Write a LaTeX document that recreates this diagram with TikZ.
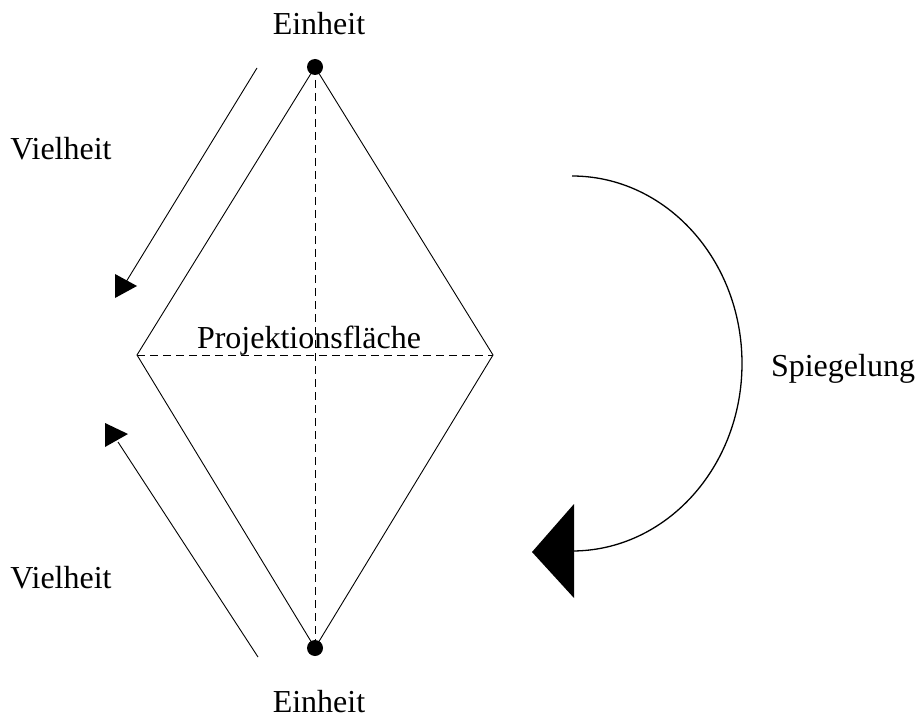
\documentclass[tikz,border=0pt]{standalone}
\usepackage{fontspec}
\setmainfont{Liberation Serif}
\begin{document}
\begin{tikzpicture}[x=1pt,y=-1pt,
  thin line/.style={line width=0.9pt},
  axis/.style={line width=0.9pt, dash pattern=on 8pt off 5pt},
  dot/.style={circle, fill=black, inner sep=0pt, minimum size=16pt},
  label/.style={font=\fontsize{32}{38}\selectfont, inner sep=0pt, anchor=base},
  head/.style={fill=black, draw=none}]
  \useasboundingbox (0,0) rectangle (915,727);

  % diamond corners
  \node[dot] (top) at (315,67) {};
  \node[dot] (bot) at (315,648) {};
  \coordinate (left) at (137,355);
  \coordinate (right) at (493,355);

  % diamond outline and its axes
  \draw[thin line] (top.center) -- (left) -- (bot.center) -- (right) -- cycle;
  \draw[axis] (top.center) -- (bot.center);
  \draw[axis] (left) -- (right);

  % labels
  \node[label] (e1) at (319,35) {Einheit};
  \node[label] (e2) at (319,712) {Einheit};
  \node[label] (v1) at (61,160) {Vielheit};
  \node[label] (v2) at (61,588) {Vielheit};
  \node[label] (proj) at (309,348) {Projektionsfläche};
  \node[label] (sp) at (843,376) {Spiegelung};

  % upper arrow towards the plane
  \coordinate (a1s) at (257,68);
  \coordinate (a1e) at (126,282);
  \draw[thin line] (a1s) -- (a1e);
  \fill[head] (115,274) -- (137,286) -- (115,298) -- cycle;

  % lower arrow towards the plane
  \coordinate (a2s) at (258,657);
  \coordinate (a2e) at (118,442);
  \draw[thin line] (a2s) -- (a2e);
  \fill[head] (105,423) -- (128,434) -- (105,447) -- cycle;

  % mirroring arc
  \coordinate (arcs) at (572,176);
  \coordinate (arce) at (574,551);
  \draw[line width=1.3pt] (arcs) arc[start angle=-90, end angle=90, x radius=170, y radius=187.5];
  \fill[head] (574,504) -- (532,552) -- (574,598) -- cycle;
\end{tikzpicture}
\end{document}
